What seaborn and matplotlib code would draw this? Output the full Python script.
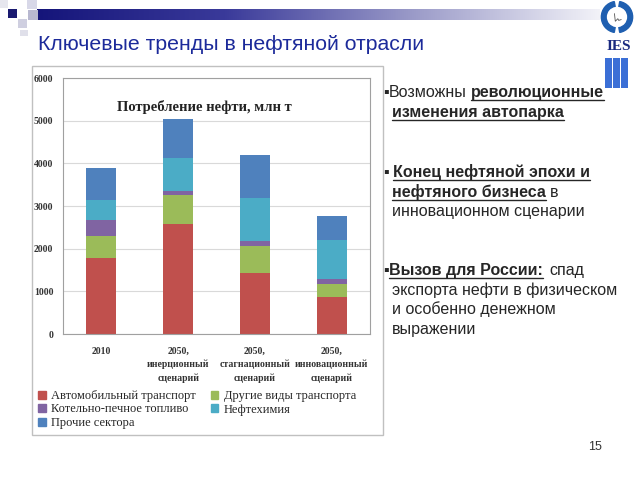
import matplotlib
matplotlib.use("Agg")
import matplotlib.pyplot as plt
import numpy as np
import pandas as pd
import seaborn as sns
from matplotlib.patches import Rectangle, Patch, Wedge
from matplotlib.lines import Line2D

# ---- data ----
scenarios = ["2010", "2050,\nинерционный\nсценарий", "2050,\nстагнационный\nсценарий",
             "2050,\nинновационный\nсценарий"]
sectors = ["Автомобильный транспорт", "Другие виды транспорта", "Котельно-печное топливо",
           "Нефтехимия", "Прочие сектора"]
auto = [1770, 2584, 1433, 877]
other_transport = [517, 666, 627, 290]
boiler = [391, 102, 117, 125]
petrochem = [462, 767, 1003, 908]
other = [760, 912, 1010, 564]
colors = ["#C0504D", "#9BBB59", "#8064A2", "#4BACC6", "#4F81BD"]

W, H = 640, 480
sns.set_theme(style="white")
plt.rcParams["font.family"] = ["Liberation Sans", "DejaVu Sans"]
fig = plt.figure(figsize=(6.4, 4.8), dpi=100)


def fx(x):
    return x / W


def fy(y):
    return 1 - y / H


# ---- slide decoration ----
grad = np.linspace(0, 1, 256).reshape(1, -1)
gax = fig.add_axes([fx(37), fy(20), fx(600 - 37), 11 / H])
cmap = matplotlib.colors.LinearSegmentedColormap.from_list(
    "g", ["#15157a", "#3a3a9a", "#9a9ac8", "#f2f2f8"])
gax.imshow(grad, aspect="auto", cmap=cmap)
gax.set_axis_off()
for (x0, y0, w, h, c) in [(8, 9, 9, 9, "#1a1a70"), (27, 0, 10, 9, "#d8d8e8"),
                          (18, 19, 9, 9, "#cfcfe0"), (28, 10, 10, 10, "#b8b8d0"),
                          (0, 0, 8, 8, "#e6e6ee"), (20, 30, 8, 6, "#e0e0ea")]:
    fig.add_artist(Rectangle((fx(x0), fy(y0 + h)), w / W, h / H,
                             transform=fig.transFigure, color=c, lw=0))

fig.text(fx(38), fy(45), "Ключевые тренды в нефтяной отрасли", fontsize=15.3,
         color="#1c2a9a", va="center", ha="left")

# logo
lax = fig.add_axes([fx(600), fy(34), 34 / W, 34 / H])
lax.set_xlim(-1, 1)
lax.set_ylim(-1, 1)
lax.set_aspect("equal")
lax.set_axis_off()
lax.add_patch(Wedge((0, 0), 0.92, 100, 260, width=0.28, color="#1f5fb0"))
lax.add_patch(Wedge((0, 0), 0.92, -80, 80, width=0.28, color="#1f5fb0"))
lax.plot([-0.15, -0.1, 0.05, 0.1, 0.25], [0.2, -0.25, -0.1, -0.2, -0.15], color="#555", lw=0.6)
fig.text(fx(619), fy(47), "IES", fontsize=11, fontweight="bold", family="Liberation Serif",
         color="#1a2a80", ha="center", va="center")
for bx in [605, 613, 621]:
    fig.add_artist(Rectangle((fx(bx), fy(88)), 7 / W, 30 / H, transform=fig.transFigure,
                             color="#3b6fd6", lw=0))

fig.text(fx(595), fy(447), "15", fontsize=9, color="#333", ha="center", va="center")

# ---- chart frame ----
fig.add_artist(Rectangle((fx(32), fy(435)), (383 - 32) / W, (435 - 66) / H,
                         transform=fig.transFigure, fill=False, ec="#c0c0c0", lw=1))

ax = fig.add_axes([fx(63), fy(334), (370 - 63) / W, (334 - 78) / H])
df = pd.DataFrame({"scenario": scenarios})
stack = np.cumsum(np.array([auto, other_transport, boiler, petrochem, other]), axis=0)
for i in range(len(sectors) - 1, -1, -1):
    df["v"] = stack[i]
    sns.barplot(data=df, x="scenario", y="v", color=colors[i], width=0.39,
                saturation=1, ax=ax, zorder=2, linewidth=0, edgecolor="none")

ax.set_ylim(0, 6000)
ax.set_yticks(range(0, 6001, 1000))
ax.set_xlim(-0.5, 3.5)
ax.set_xlabel("")
ax.set_ylabel("")
ax.yaxis.grid(True, color="#d9d9d9", lw=0.8, zorder=0)
ax.set_axisbelow(True)
for s in ax.spines.values():
    s.set_color("#a0a0a0")
    s.set_linewidth(0.8)
ax.tick_params(axis="y", length=3, color="#a0a0a0", pad=4)
ax.tick_params(axis="x", length=0, pad=9)
ax.set_xticks([-0.5, 0.5, 1.5, 2.5, 3.5], minor=True)
ax.tick_params(axis="x", which="minor", length=3, color="#a0a0a0")
for lab in ax.get_yticklabels():
    lab.set_fontfamily("Liberation Serif")
    lab.set_fontweight("bold")
    lab.set_fontsize(7)
    lab.set_color("#333")
for lab in ax.get_xticklabels():
    lab.set_fontfamily("Liberation Serif")
    lab.set_fontweight("bold")
    lab.set_fontsize(7)
    lab.set_color("#333")
    lab.set_linespacing(1.55)

ax.text(0.46, 0.885, "Потребление нефти, млн т", transform=ax.transAxes, ha="center",
        va="center", fontsize=10.5, fontweight="bold", family="Liberation Serif", color="#222")

order = [0, 2, 4, 1, 3]
handles = [Patch(color=colors[i], label=sectors[i]) for i in order]
fig.legend(handles=handles, loc="upper left", bbox_to_anchor=(fx(33), fy(385)), ncol=2,
           frameon=False, prop={"family": "Liberation Serif", "size": 9},
           handlelength=0.6, handleheight=0.6, handletextpad=0.45, columnspacing=1.2,
           labelspacing=0.12, borderaxespad=0)

# ---- right-hand text with bold / underlined runs ----
fig.canvas.draw()
renderer = fig.canvas.get_renderer()
FS = 11.5
SPACE = 0.28 * FS * 100 / 72


def run_line(x, y, runs):
    for txt, bold, under, gap in runs:
        x += gap * SPACE
        t = fig.text(fx(x), fy(y), txt, fontsize=FS, color="#262626",
                     fontweight="bold" if bold else "normal", va="baseline", ha="left",
                     family=["Liberation Sans", "DejaVu Sans"])
        w = t.get_window_extent(renderer).width
        if under:
            fig.add_artist(Line2D([fx(x), fx(x + w)], [fy(y + 2.5), fy(y + 2.5)],
                                  transform=fig.transFigure, color="#262626", lw=1))
        x += w


run_line(383, 97, [("▪", False, False, 0), ("Возможны", False, False, 0),
                   ("революционные", True, True, 1)])
run_line(392, 117, [("изменения автопарка", True, True, 0)])
run_line(383, 177, [("▪", False, False, 0), ("Конец нефтяной эпохи и", True, True, 1)])
run_line(392, 197, [("нефтяного бизнеса", True, True, 0), ("в", False, False, 1)])
run_line(392, 216, [("инновационном сценарии", False, False, 0)])
run_line(383, 275, [("▪", False, False, 0), ("Вызов для России:", True, True, 0),
                    ("спад", False, False, 1.5)])
run_line(392, 295, [("экспорта нефти в физическом", False, False, 0)])
run_line(392, 314, [("и особенно денежном", False, False, 0)])
run_line(392, 334, [("выражении", False, False, 0)])

fig.savefig("out.png", dpi=100)
